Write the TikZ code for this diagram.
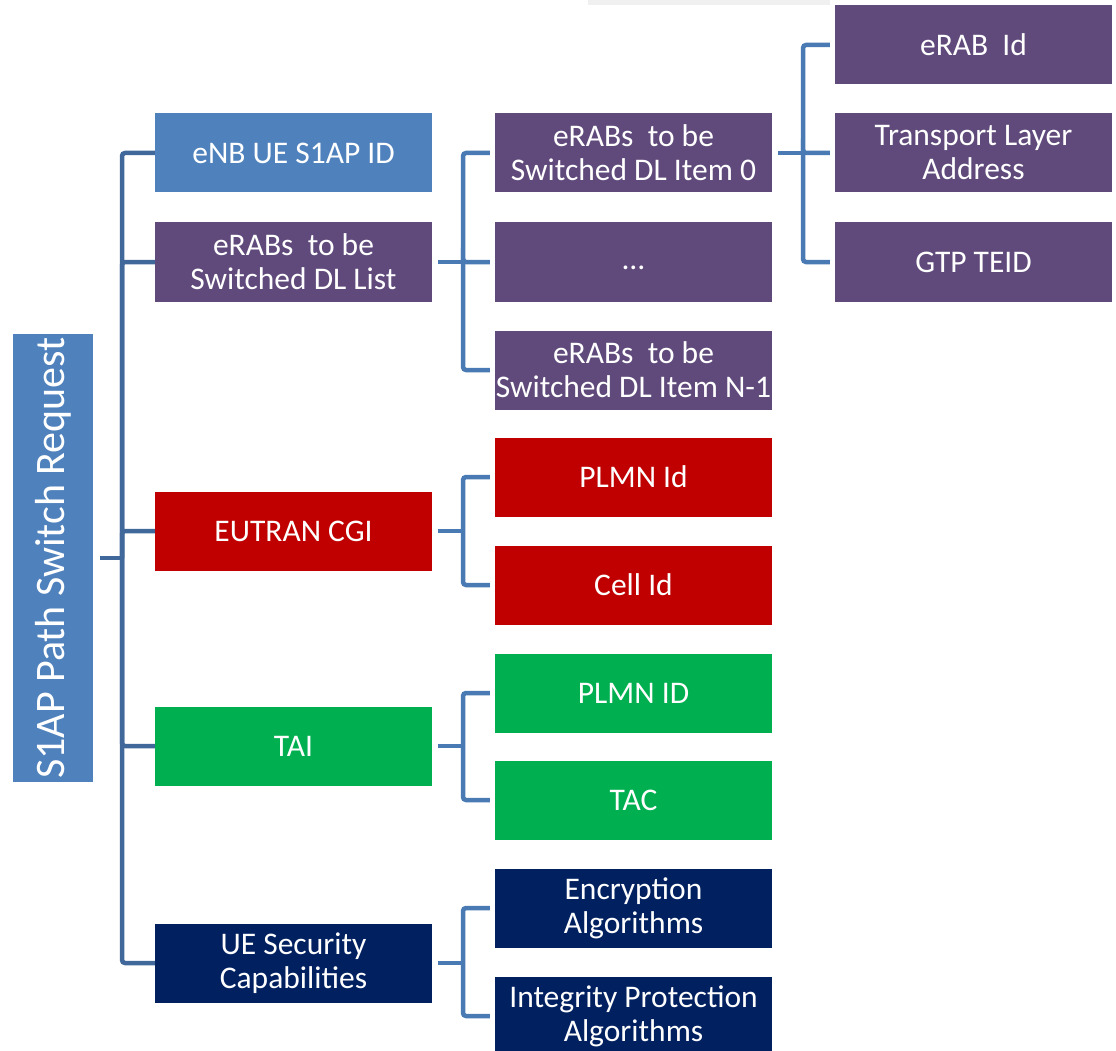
\documentclass[tikz,border=0pt]{standalone}
\usepackage{fontspec}
\setmainfont{Carlito}
\definecolor{cblue}{HTML}{4F81BD}
\definecolor{cpurple}{HTML}{604A7B}
\definecolor{cred}{HTML}{C00000}
\definecolor{cgreen}{HTML}{00B050}
\definecolor{cnavy}{HTML}{002060}
\definecolor{ctrunk}{HTML}{41689A}
\definecolor{cbranch}{HTML}{4A7AB4}
\definecolor{cbar}{HTML}{F0F0F0}
\begin{document}
\begin{tikzpicture}[x=1pt,y=-1pt,
  box/.style={minimum width=277pt,minimum height=79pt,inner sep=0pt,
    text=white,align=center,font=\fontsize{31.5}{34}\selectfont},
  rootbox/.style={fill=cblue,rotate=90,minimum width=448pt,minimum height=80pt,
    inner sep=0pt,text=white,font=\fontsize{42}{48}\selectfont},
  trunk/.style={draw=ctrunk,line width=4.5pt,rounded corners=3pt},
  branch/.style={draw=cbranch,line width=4.5pt,rounded corners=3pt},
  ]
\useasboundingbox (0,0) rectangle (1116,1051);
\fill[cbar] (588,0) rectangle (830,5);

% root
\node[rootbox] (root) at (53,558) {S1AP Path Switch Request};

% first level
\node[box,fill=cblue]   (enb)   at (293.5,153) {eNB UE S1AP ID};
\node[box,fill=cpurple] (list)  at (293.5,262) {eRABs\ \ to be\\Switched DL List};
\node[box,fill=cred]    (cgi)   at (293.5,531) {EUTRAN CGI};
\node[box,fill=cgreen]  (tai)   at (293.5,746) {TAI};
\node[box,fill=cnavy]   (sec)   at (293.5,963) {UE Security\\Capabilities};

% second level
\node[box,fill=cpurple] (item0) at (633.5,153) {eRABs\ \ to be\\Switched DL Item 0};
\node[box,fill=cpurple] (dots)  at (633.5,262) {\smash{\raisebox{-7pt}{\ldots}}};
\node[box,fill=cpurple] (itemn) at (633.5,370) {eRABs\ \ to be\\Switched DL Item N-1};
\node[box,fill=cred]    (plmn1) at (633.5,477) {PLMN Id};
\node[box,fill=cred]    (cell)  at (633.5,585) {Cell Id};
\node[box,fill=cgreen]  (plmn2) at (633.5,693) {PLMN ID};
\node[box,fill=cgreen]  (tac)   at (633.5,800) {TAC};
\node[box,fill=cnavy]   (enc)   at (633.5,908) {Encryption\\Algorithms};
\node[box,fill=cnavy]   (integ) at (633.5,1016) {Integrity Protection\\Algorithms};

% third level
\node[box,fill=cpurple] (erabid) at (973.5,45)  {eRAB\ \ Id};
\node[box,fill=cpurple] (tla)    at (973.5,153) {Transport Layer\\Address};
\node[box,fill=cpurple] (gtp)    at (973.5,262) {GTP TEID};

% bus lines
\coordinate (b0) at (122,558);
\coordinate (b1) at (463,0);
\coordinate (b2) at (803,0);

% root to first level
\draw[trunk] ([xshift=7pt]root.south) -- (b0);
\foreach \c in {enb,list,cgi,tai,sec}
  \draw[trunk] (b0) |- (\c.west);

% first to second level
\foreach \p/\c in {list/item0,list/dots,list/itemn,cgi/plmn1,cgi/cell,
                   tai/plmn2,tai/tac,sec/enc,sec/integ}{
  \draw[branch] ([xshift=6pt]\p.east) -- (b1 |- \p.east);
  \draw[branch,shorten >=5pt] (b1 |- \p.east) |- (\c.west);
}

% second to third level
\foreach \c in {erabid,tla,gtp}{
  \draw[branch] ([xshift=6pt]item0.east) -- (b2 |- item0.east);
  \draw[branch,shorten >=5pt] (b2 |- item0.east) |- (\c.west);
}
\end{tikzpicture}
\end{document}
